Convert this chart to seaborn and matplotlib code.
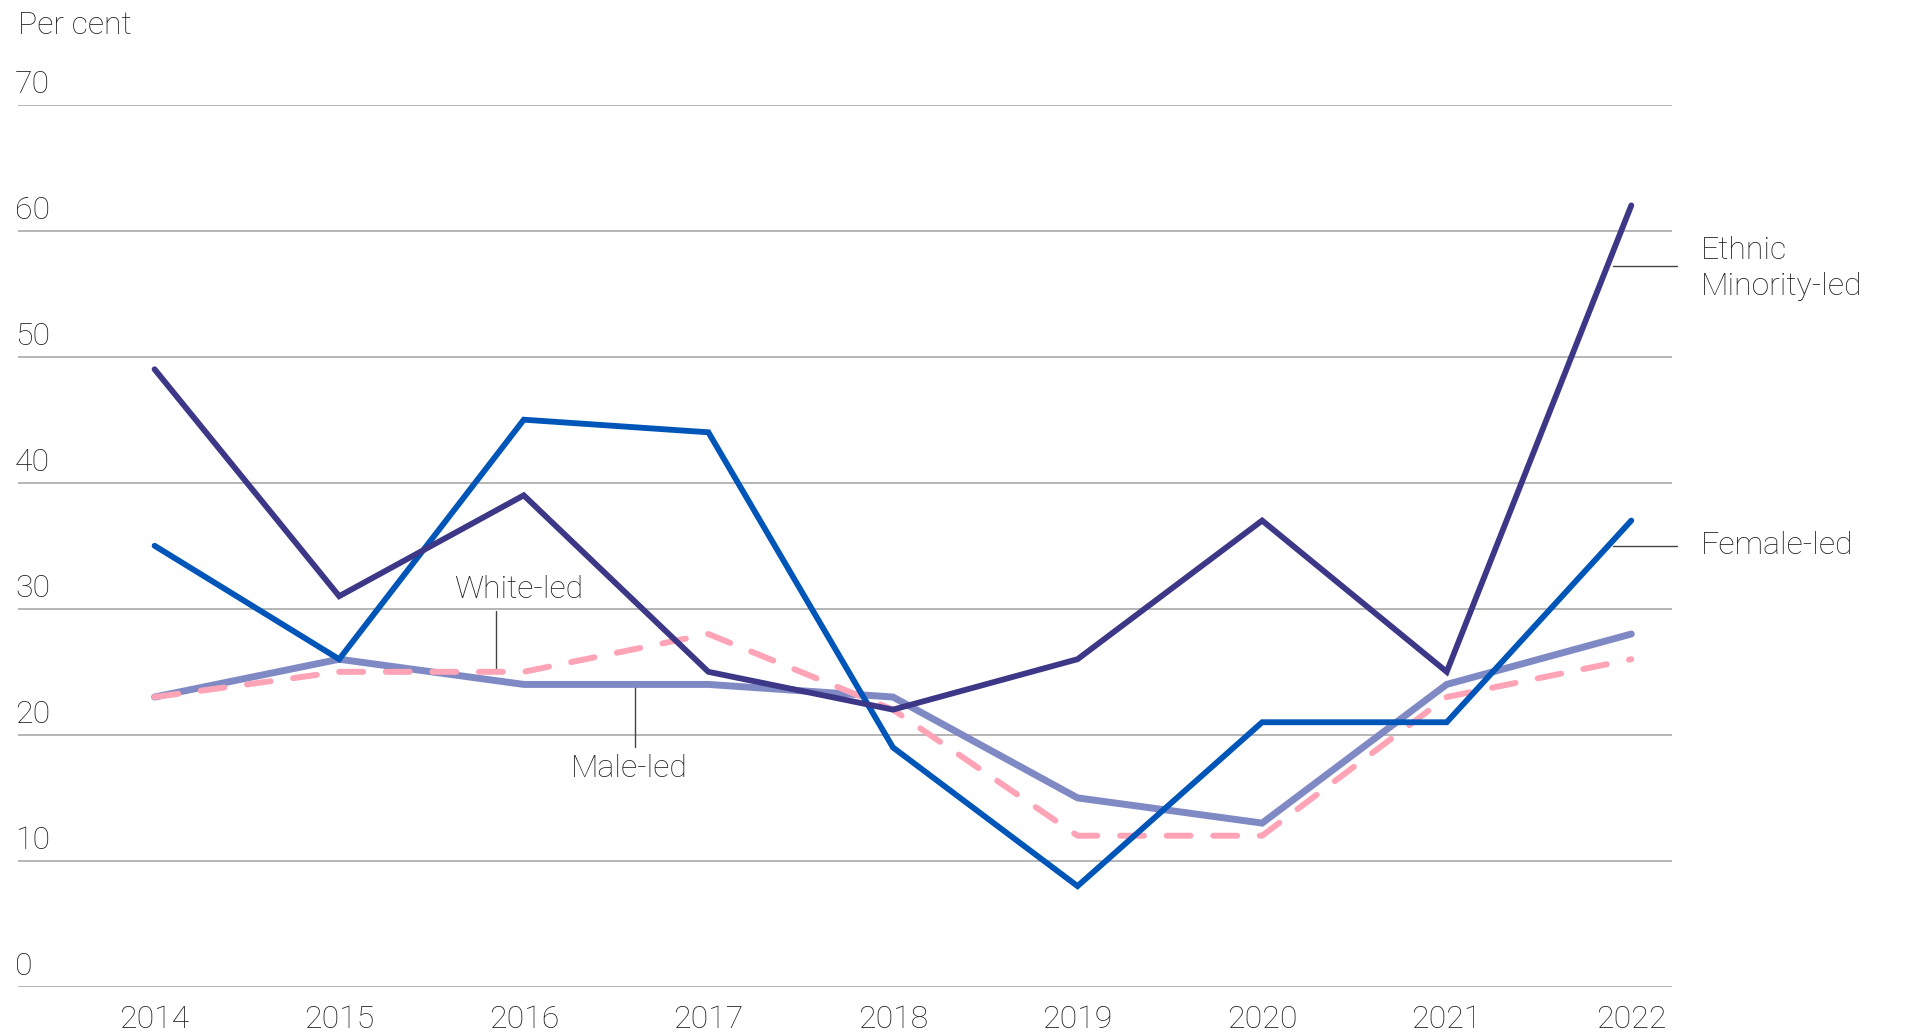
import matplotlib
matplotlib.use("Agg")
import matplotlib.pyplot as plt
import seaborn as sns
import pandas as pd

years = [2014, 2015, 2016, 2017, 2018, 2019, 2020, 2021, 2022]
ethnic_minority_led = [49, 31, 39, 25, 22, 26, 37, 25, 62]
female_led = [35, 26, 45, 44, 19, 8, 21, 21, 37]
male_led = [23, 26, 24, 24, 23, 15, 13, 24, 28]
white_led = [23, 25, 25, 28, 22, 12, 12, 23, 26]
y_ticks = [0, 10, 20, 30, 40, 50, 60, 70]

series_names = ["Male-led", "White-led", "Female-led", "Ethnic Minority-led"]
series_values = [male_led, white_led, female_led, ethnic_minority_led]
colors = {"Ethnic Minority-led": "#3d3787", "Female-led": "#0055b8",
          "Male-led": "#7f8ac4", "White-led": "#ffa3b6"}
widths = {"Ethnic Minority-led": 4.2, "Female-led": 4.2, "Male-led": 5.0, "White-led": 4.3}

rows = []
for name, vals in zip(series_names, series_values):
    for y, v in zip(years, vals):
        rows.append({"year": y, "value": v, "series": name})
df = pd.DataFrame(rows)

sns.set_theme(style="white")
plt.rcParams['font.family'] = ['Roboto', 'DejaVu Sans']
plt.rcParams['font.weight'] = 'light'
text_color = "#222222"
fs = 23

fig = plt.figure(figsize=(19.05, 10.35), dpi=100)
ax = fig.add_axes([0.00945, 0.0464, 0.8682, 0.8526])

for name in series_names:
    sub = df[df["series"] == name]
    ls = (0, (4.0, 3.8)) if name == "White-led" else "-"
    sns.lineplot(data=sub, x="year", y="value", ax=ax, color=colors[name],
                 linewidth=widths[name], linestyle=ls, legend=False,
                 solid_joinstyle="miter", solid_capstyle="round",
                 dash_capstyle="round", zorder=3)

ax.set_xlim(2013.26, 2022.22)
ax.set_ylim(0, 70)
ax.set_yticks(y_ticks)
ax.set_yticklabels([])
ax.set_xticks(years)
ax.set_xticklabels([str(y) for y in years], fontsize=fs, color=text_color, fontweight='light')
ax.tick_params(axis="x", length=0, pad=13)
ax.tick_params(axis="y", length=0)
ax.grid(axis="y", color="#b0b0b0", linewidth=1.3)
ax.grid(axis="x", visible=False)
for s in ax.spines.values():
    s.set_visible(False)
ax.set_xlabel("")
ax.set_ylabel("")

for t in y_ticks:
    ax.annotate(str(t), xy=(0, t), xycoords=("axes fraction", "data"),
                xytext=(-2, 4), textcoords="offset points",
                ha="left", va="bottom", fontsize=fs, color=text_color, fontweight='light')

ax.text(0, 1.089, "Per cent", transform=ax.transAxes, ha="left", va="center",
        fontsize=fs, color=text_color, fontweight='light')

lc = "#444444"
# White-led leader
ax.plot([2015.85, 2015.85], [25.3, 29.8], color=lc, linewidth=1.0, zorder=2)
ax.text(2015.97, 31.5, "White-led", ha="center", va="center", fontsize=fs,
        color=text_color, fontweight='light')
# Male-led leader
ax.plot([2016.6, 2016.6], [24.0, 19.0], color=lc, linewidth=1.0, zorder=2)
ax.text(2016.57, 17.3, "Male-led", ha="center", va="center", fontsize=fs,
        color=text_color, fontweight='light')
# Ethnic Minority-led
ax.plot([2021.9, 2022.25], [57.2, 57.2], color=lc, linewidth=1.0, clip_on=False)
ax.text(2022.375, 57.0, "Ethnic\nMinority-led", ha="left", va="center", fontsize=fs,
        color=text_color, linespacing=1.3, fontweight='light')
# Female-led
ax.plot([2021.9, 2022.25], [35, 35], color=lc, linewidth=1.0, clip_on=False)
ax.text(2022.375, 35, "Female-led", ha="left", va="center", fontsize=fs,
        color=text_color, fontweight='light')

fig.savefig("out.png", dpi=100)
